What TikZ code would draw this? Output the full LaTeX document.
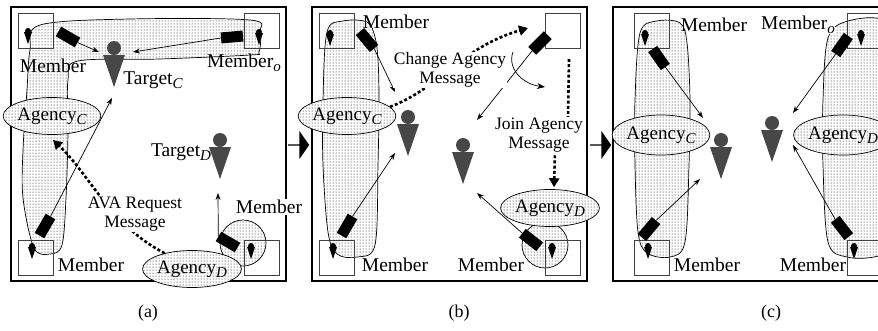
\documentclass[tikz,border=0pt]{standalone}
\usepackage{fontspec}
\setmainfont{Liberation Serif}
\usetikzlibrary{arrows.meta,shapes,patterns,positioning}
\newcommand{\lowsub}[1]{\raisebox{-4pt}{\fontsize{15}{15}\selectfont\itshape #1}}

\begin{document}
\begin{tikzpicture}
	[x=1pt, y=-1pt,
	panel/.style={draw, line width=2.6pt},
	spot/.style={draw=black!75, line width=0.7pt, minimum size=35pt, inner sep=0pt},
	region/.style={draw, line width=0.7pt, pattern=dots, pattern color=black},
	camera/.style={fill=black, minimum width=22pt, minimum height=11pt, inner sep=0pt},
	agency/.style={ellipse, draw, line width=0.7pt, preaction={fill=white}, pattern=dots, pattern color=black, inner sep=0pt, minimum width=90pt, minimum height=37pt, font=\fontsize{19}{21}\selectfont},
	zone/.style={circle, draw, line width=0.7pt, pattern=dots, pattern color=black, minimum size=46pt, inner sep=0pt},
	tag/.style={inner sep=0pt, font=\fontsize{19.5}{21}\selectfont},
	msgtext/.style={fill=white, inner sep=1pt, align=center, font=\fontsize{17.5}{18.5}\selectfont},
	caption/.style={inner sep=0pt, font=\fontsize{18}{20}\selectfont},
	aim/.style={->, >={Stealth[length=7pt,width=5pt]}, line width=0.7pt},
	message/.style={line width=2.6pt, dash pattern=on 3pt off 2.2pt, -{Triangle[length=9pt,width=10pt]}},
	jump/.style={single arrow, fill=black, minimum height=21pt, minimum width=28pt, single arrow head extend=5pt, single arrow tip angle=110, inner sep=0pt},]
	\useasboundingbox (0,0) rectangle (878,330);
	\clip (0,0) rectangle (878,330);

	% frames
	\draw[panel] (11,7) rectangle (286,281);
	\draw[panel] (312,7) rectangle (587,281);
	\draw[panel] (613,7) rectangle (890,281);

	% shaded groups
	\draw[region] plot[smooth cycle, tension=0.55] coordinates {(40,25) (130,19) (250,20) (260,32) (259,52) (250,55) (160,59) (78,61) (68,80) (68,133) (66,198) (62,245) (50,254) (34,248) (23,198) (23,150) (27,90) (30,50)};
	\draw[region] plot[smooth cycle, tension=0.55] coordinates {(327,32) (343,21) (367,22) (375,37) (378,60) (379,100) (378,165) (375,245) (357,257) (337,254) (328,232) (323,165) (323,100)};
	\draw[region] plot[smooth cycle, tension=0.55] coordinates {(640,33) (657,21) (680,23) (687,43) (690,100) (689,165) (685,242) (670,257) (647,253) (638,232) (635,165) (635,100)};
	\draw[region] plot[smooth cycle, tension=0.55] coordinates {(828,38) (848,21) (885,21) (900,60) (900,240) (878,256) (847,257) (828,242) (823,165) (823,100)};

	\node[zone] (zoneA) at (243,243) {};
	\node[zone] (zoneB) at (545,245) {};

	% member squares
	\foreach \nm/\x/\y in {sqA1/35.5/31, sqA2/261.5/31, sqA3/35.5/257.5, sqA4/261.5/257.5, sqB1/336.5/31, sqB2/563/31, sqB3/336.5/257.5, sqB4/563/257.5, sqC1/651.5/31, sqC2/864.5/31, sqC3/651.5/257.5, sqC4/864.5/257.5}
		\node[spot] (\nm) at (\x,\y) {};

	% small members
	\foreach \x/\y in {28/36, 259/37, 32/251, 251/251, 330/38, 333/251, 552/251, 645/38, 861/38, 648/251, 854/251} {
		\fill (\x,\y-5) circle (3);
		\fill (\x-4,\y-4) -- (\x+4,\y-4) -- (\x,\y+8) -- cycle;
	}

	% targets
	\foreach \x/\y in {114/48, 220/140, 408/117, 463/145, 721/140, 772/123} {
		\fill[black!72] (\x,\y) circle (7);
		\fill[black!72] (\x-11,\y+7) -- (\x+11,\y+7) -- (\x,\y+39) -- cycle;
	}

	% cameras
	\node[camera, rotate=-30] (camA1) at (68,37) {};
	\node[camera, rotate=5] (camA2) at (232,37) {};
	\node[camera, rotate=60] (camA3) at (45,226) {};
	\node[camera, rotate=-30] (camA4) at (228,242) {};
	\node[camera, rotate=-50] (camB1) at (367,40) {};
	\node[camera, rotate=45] (camB2) at (540,43) {};
	\node[camera, rotate=60] (camB3) at (347,226) {};
	\node[camera, rotate=-38] (camB4) at (531,240) {};
	\node[camera, rotate=-55] (camC1) at (659,58) {};
	\node[camera, rotate=55] (camC2) at (842,45) {};
	\node[camera, rotate=50] (camC3) at (649,229) {};
	\node[camera, rotate=-52] (camC4) at (842,228) {};

	% ends of the view lines
	\coordinate (aimA1) at (99,52);
	\coordinate (aimA2) at (133,52);
	\coordinate (aimA3) at (112,98);
	\coordinate (aimA4) at (218,193);
	\coordinate (aimB1) at (395,92);
	\coordinate (aimB2) at (477,120);
	\coordinate (aimB3) at (395,153);
	\coordinate (aimB4) at (477,193);
	\coordinate (aimC1) at (703,118);
	\coordinate (aimC2) at (793,113);
	\coordinate (aimC3) at (700,179);
	\coordinate (aimC4) at (793,145);

	\foreach \pn in {A,B,C}
		\foreach \k/\side in {1/east,2/west,3/east,4/west}
			\draw[aim] (cam\pn\k.\side) -- (aim\pn\k);

	% agencies
	\node[agency] (agCa) at (52,116) {Agency\lowsub{C}};
	\node[agency, minimum width=97pt] (agDa) at (192,269) {Agency\lowsub{D}};
	\node[agency] (agCb) at (347,116) {Agency\lowsub{C}};
	\node[agency, minimum width=85pt] (agDb) at (550,208) {Agency\lowsub{D}};
	\node[agency, minimum height=40pt] (agCc) at (661,135) {Agency\lowsub{C}};
	\node[agency, minimum height=40pt] (agDc) at (843,135) {Agency\lowsub{D}};

	% messages
	\coordinate (reqEnd) at (53,140);
	\coordinate (chgEnd) at (528,28);
	\coordinate (joinStart) at (569,59);
	\coordinate (turnStart) at (513,52);
	\coordinate (turnEnd) at (545,87);
	\draw[message] (agDa.150) .. controls (110,225) and (90,175) .. (reqEnd);
	\draw[message] (agCb.12) .. controls (440,88) and (460,48) .. (chgEnd);
	\draw[message, shorten >=2pt] (joinStart) -- (568,118) -- (555,150) -- (agDb.78);
	\draw[->, >={Stealth[length=8pt,width=6pt]}, line width=0.7pt] (turnStart) .. controls (507,68) and (522,84) .. (turnEnd);

	\node[msgtext] (reqText) at (135,214) {AVA Request\\Message};
	\node[msgtext] (chgText) at (450,70) {Change Agency\\Message};
	\node[msgtext] (joinText) at (539,135) {Join Agency\\Message};

	% member labels
	\node[tag] (memA1) at (53,66) {Member};
	\node[tag] (memA2) at (244,63) {Member\lowsub{o}};
	\node[tag] (tgtA1) at (153,80) {Target\lowsub{C}};
	\node[tag] (tgtA2) at (181,152) {Target\lowsub{D}};
	\node[tag] (memA3) at (91,265) {Member};
	\node[tag, fill=white, inner sep=1pt] (memA4) at (269,207) {Member};
	\node[tag] (memB1) at (396,22) {Member};
	\node[tag] (memB2) at (395,265) {Member};
	\node[tag] (memB3) at (491,265) {Member};
	\node[tag] (memC1) at (714,25) {Member};
	\node[tag, fill=white] (memC2) at (798,25) {Member\lowsub{o}};
	\node[tag] (memC3) at (707,265) {Member};
	\node[tag] (memC4) at (813,265) {Member};

	% steps between the panels
	\node[jump] (jumpAB) at (298.5,145) {};
	\node[jump] (jumpBC) at (600.5,145) {};

	\node[caption] (capA) at (148,313) {(a)};
	\node[caption] (capB) at (459,313) {(b)};
	\node[caption] (capC) at (771,313) {(c)};
\end{tikzpicture}
\end{document}
